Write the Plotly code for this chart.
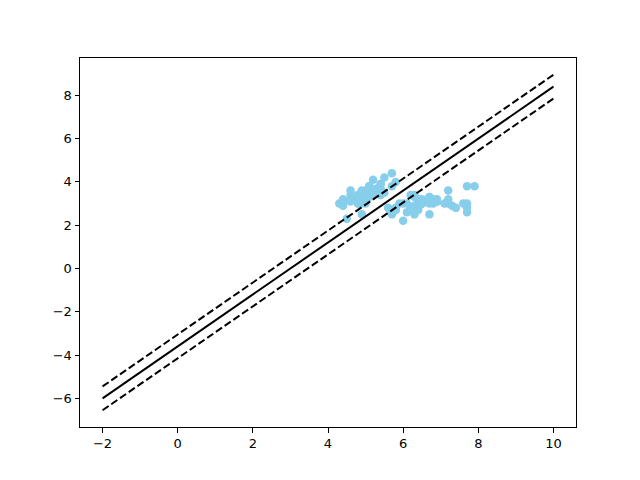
import plotly.graph_objects as go

sepal_length = [5.1,4.9,4.7,4.6,5.0,5.4,4.6,5.0,4.4,4.9,5.4,4.8,4.8,4.3,5.8,5.7,5.4,5.1,5.7,5.1,
                5.4,5.1,4.6,5.1,4.8,5.0,5.0,5.2,5.2,4.7,4.8,5.4,5.2,5.5,4.9,5.0,5.5,4.9,4.4,5.1,
                5.0,4.5,4.4,5.0,5.1,4.8,5.1,4.6,5.3,5.0,
                6.3,5.8,7.1,6.3,6.5,7.6,4.9,7.3,6.7,7.2,6.5,6.4,6.8,5.7,5.8,6.4,6.5,7.7,7.7,6.0,
                6.9,5.6,7.7,6.3,6.7,7.2,6.2,6.1,6.4,7.2,7.4,7.9,6.4,6.3,6.1,7.7,6.3,6.4,6.0,6.9,
                6.7,6.9,5.8,6.8,6.7,6.7,6.3,6.5,6.2,5.9]
sepal_width = [3.5,3.0,3.2,3.1,3.6,3.9,3.4,3.4,2.9,3.1,3.7,3.4,3.0,3.0,4.0,4.4,3.9,3.5,3.8,3.8,
               3.4,3.7,3.6,3.3,3.4,3.0,3.4,3.5,3.4,3.2,3.1,3.4,4.1,4.2,3.1,3.2,3.5,3.6,3.0,3.4,
               3.5,2.3,3.2,3.5,3.8,3.0,3.8,3.2,3.7,3.3,
               3.3,2.7,3.0,2.9,3.0,3.0,2.5,2.9,2.5,3.6,3.2,2.7,3.0,2.5,2.8,3.2,3.0,3.8,2.6,2.2,
               3.2,2.8,2.8,2.7,3.3,3.2,2.8,3.0,2.8,3.0,2.8,3.8,2.8,2.8,2.6,3.0,3.4,3.1,3.0,3.1,
               3.1,3.1,2.7,3.2,3.3,3.0,2.5,3.0,3.4,3.0]

line_x = [-2, 10]
center_y = [-6.0, 8.4]
upper_y = [-5.45, 8.95]
lower_y = [-6.55, 7.85]

x_ticks = [-2, 0, 2, 4, 6, 8, 10]
y_ticks = [-6, -4, -2, 0, 2, 4, 6, 8]

fig = go.Figure()
fig.add_trace(go.Scatter(x=sepal_length, y=sepal_width, mode="markers",
                         marker=dict(color="#87CEEB", size=8.5, line=dict(width=0)),
                         showlegend=False))
fig.add_trace(go.Scatter(x=line_x, y=center_y, mode="lines",
                         line=dict(color="black", width=2), showlegend=False))
fig.add_trace(go.Scatter(x=line_x, y=upper_y, mode="lines",
                         line=dict(color="black", width=2, dash="7.4px,3.2px"), showlegend=False))
fig.add_trace(go.Scatter(x=line_x, y=lower_y, mode="lines",
                         line=dict(color="black", width=2, dash="7.4px,3.2px"), showlegend=False))

axis_common = dict(showgrid=False, zeroline=False, showline=True, linecolor="black",
                   linewidth=1, mirror=True, ticks="outside", ticklen=4.5, tickwidth=1,
                   tickcolor="black", tickfont=dict(size=13, color="black"))
fig.update_xaxes(range=[-2.6, 10.6], tickvals=x_ticks, **axis_common)
fig.update_yaxes(range=[-7.325, 9.725], tickvals=y_ticks, **axis_common)

fig.update_layout(width=640, height=480, plot_bgcolor="white", paper_bgcolor="white",
                  margin=dict(l=72, r=72, t=50, b=61),
                  font=dict(family="DejaVu Sans", size=13, color="black"))
fig.write_html("out.html")
